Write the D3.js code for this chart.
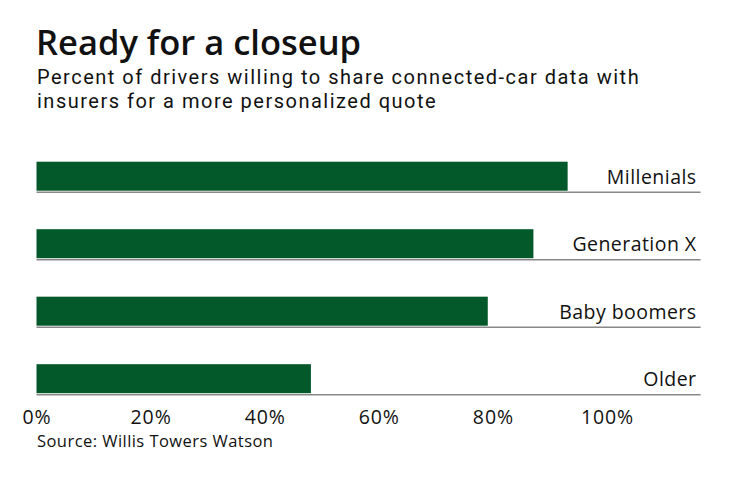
<!DOCTYPE html>
<html>
<head>
<meta charset="utf-8">
<script src="https://cdn.jsdelivr.net/npm/d3@7"></script>
<style>
  body { margin: 0; background: #fff; }
  svg { display: block; font-family: "Open Sans", "Noto Sans", sans-serif; }
</style>
</head>
<body>
<svg id="chart" width="740" height="482"></svg>
<script>
// data
const categories = ["Millenials", "Generation X", "Baby boomers", "Older"];
const values = [0.931, 0.871, 0.791, 0.481];
const tickValues = [0, 0.2, 0.4, 0.6, 0.8, 1.0];
const xMax = 1.164;
const subtitleLines = [
    "Percent of drivers willing to share connected-car data with",
    "insurers for a more personalized quote"
];

const svg = d3.select("#chart");

// title + subtitle
svg.append("text")
    .attr("x", 36).attr("y", 55)
    .attr("font-size", 34.5).attr("font-weight", 600).attr("fill", "#111")
    .text("Ready for a closeup");

// subtitle lines sit 24px apart, Roboto keeps their boxes from touching
svg.selectAll(".subtitle")
    .data(subtitleLines)
    .join("text")
    .attr("class", "subtitle")
    .attr("x", 37)
    .attr("y", (d, i) => 84 + i * 24)
    .attr("font-family", "Roboto, sans-serif")
    .attr("font-size", 20).attr("fill", "#111")
    .attr("letter-spacing", 1.5)
    .text(d => d);

const x = d3.scaleLinear().domain([0, 1]).range([36.5, 607]);
const y = d3.scaleBand().domain(categories).range([161.7, 393.2]).paddingInner(0.57).paddingOuter(0);

const rows = svg.append("g").selectAll("g")
    .data(categories)
    .join("g");

rows.append("line")
    .attr("x1", x(0)).attr("x2", x(xMax))
    .attr("y1", d => y(d) + y.bandwidth() + 1.5)
    .attr("y2", d => y(d) + y.bandwidth() + 1.5)
    .attr("stroke", "#888").attr("stroke-width", 1.5);

rows.append("rect")
    .attr("x", x(0))
    .attr("y", d => y(d))
    .attr("width", (d, i) => x(values[i]) - x(0))
    .attr("height", y.bandwidth())
    .attr("fill", "#04592a");

rows.append("text")
    .attr("x", x(xMax) - 4)
    .attr("y", d => y(d) + y.bandwidth() - 7)
    .attr("text-anchor", "end")
    .attr("font-size", 19.5).attr("fill", "#111")
    .attr("letter-spacing", 0.45)
    .text(d => d);

// x axis labels
const xAxis = d3.axisBottom(x).tickValues(tickValues).tickFormat(d3.format(".0%")).tickSize(0).tickPadding(0);
const ax = svg.append("g").attr("transform", "translate(0,410)").call(xAxis);
ax.select(".domain").remove();
ax.selectAll("text")
    .attr("font-family", "'Open Sans', 'Noto Sans', sans-serif")
    .attr("font-size", 19.5).attr("fill", "#111")
    .attr("letter-spacing", 0.9)
    .attr("dy", "0.72em");

svg.append("text")
    .attr("x", 37).attr("y", 447)
    .attr("font-size", 16.5).attr("fill", "#111")
    .attr("letter-spacing", 0.45)
    .text("Source: Willis Towers Watson");
</script>
</body>
</html>
